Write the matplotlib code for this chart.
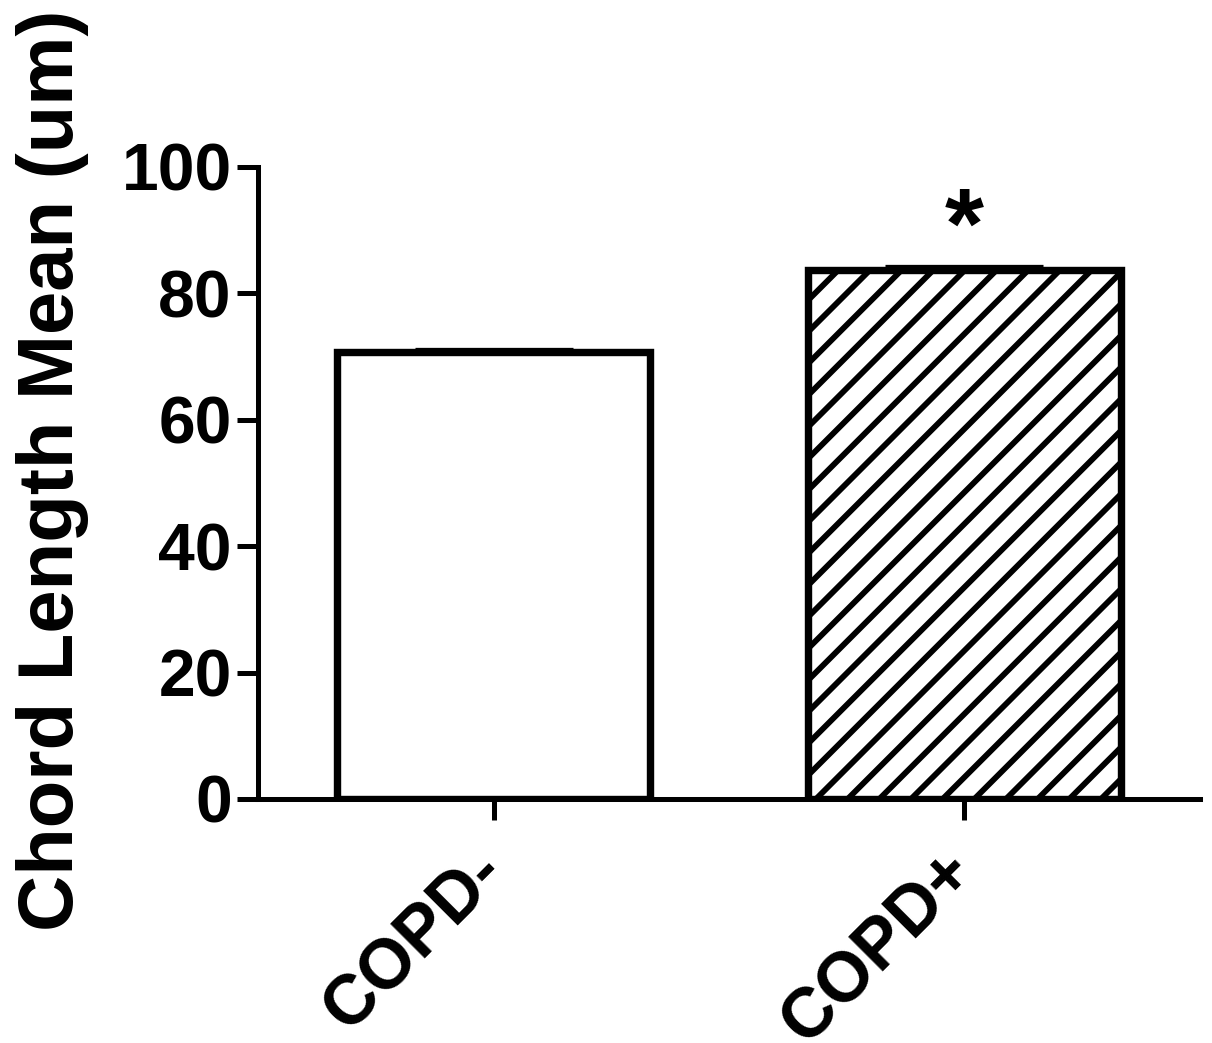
import numpy as np
import matplotlib
matplotlib.use("Agg")
import matplotlib.pyplot as plt
import matplotlib.transforms as mtransforms

# bar chart data
groups = ["COPD-", "COPD+"]
means = [70.7, 83.7]
sem = [0.4, 0.4]
hatches = ["", "//"]
star_y = 89.8

DPI = 190  # hatch spacing scales with dpi
plt.rcParams['font.family'] = ['Liberation Sans', 'DejaVu Sans']
plt.rcParams['font.weight'] = 'bold'
plt.rcParams['hatch.linewidth'] = 2.2

fig = plt.figure(figsize=(1212 / DPI, 1043 / DPI), dpi=DPI)
ax = fig.add_axes([0.213, 0.234, 0.777, 0.606])

x = np.arange(len(groups))
bars = ax.bar(x, means, width=0.666, color='white', edgecolor='black',
              linewidth=2.8, zorder=2)
for b, h in zip(bars, hatches):
    b.set_hatch(h)
ax.errorbar(x, means, yerr=[np.zeros(len(sem)), sem], fmt='none', ecolor='black',
            elinewidth=2, capsize=30, capthick=2, zorder=3)

ax.text(x[1], star_y, "*", ha='center', va='center', fontsize=38, fontweight='bold')

ax.set_xlim(-0.5, 1.5)
ax.set_ylim(0, 100)
ax.set_yticks([0, 20, 40, 60, 80, 100])
ax.set_xticks(x)
ax.set_xticklabels(groups, rotation=45, ha='right', va='center',
                   rotation_mode='anchor', fontsize=26.5)
# nudge rotated labels a little to the right
shift = mtransforms.ScaledTranslation(10 / DPI, -3 / DPI, fig.dpi_scale_trans)
for lab in ax.get_xticklabels():
    lab.set_transform(lab.get_transform() + shift)
ax.spines['top'].set_visible(False)
ax.spines['right'].set_visible(False)
for s in ['left', 'bottom']:
    ax.spines[s].set_linewidth(1.9)
ax.tick_params(axis='both', length=8, width=1.9)
ax.tick_params(axis='y', pad=2, labelsize=25)
ax.tick_params(axis='x', pad=16)
ax.set_ylabel("Chord Length Mean (um)", fontsize=29.5, fontweight='bold')
ax.yaxis.set_label_coords(-0.1795, 0.52)

fig.savefig("out.png", dpi=DPI)
